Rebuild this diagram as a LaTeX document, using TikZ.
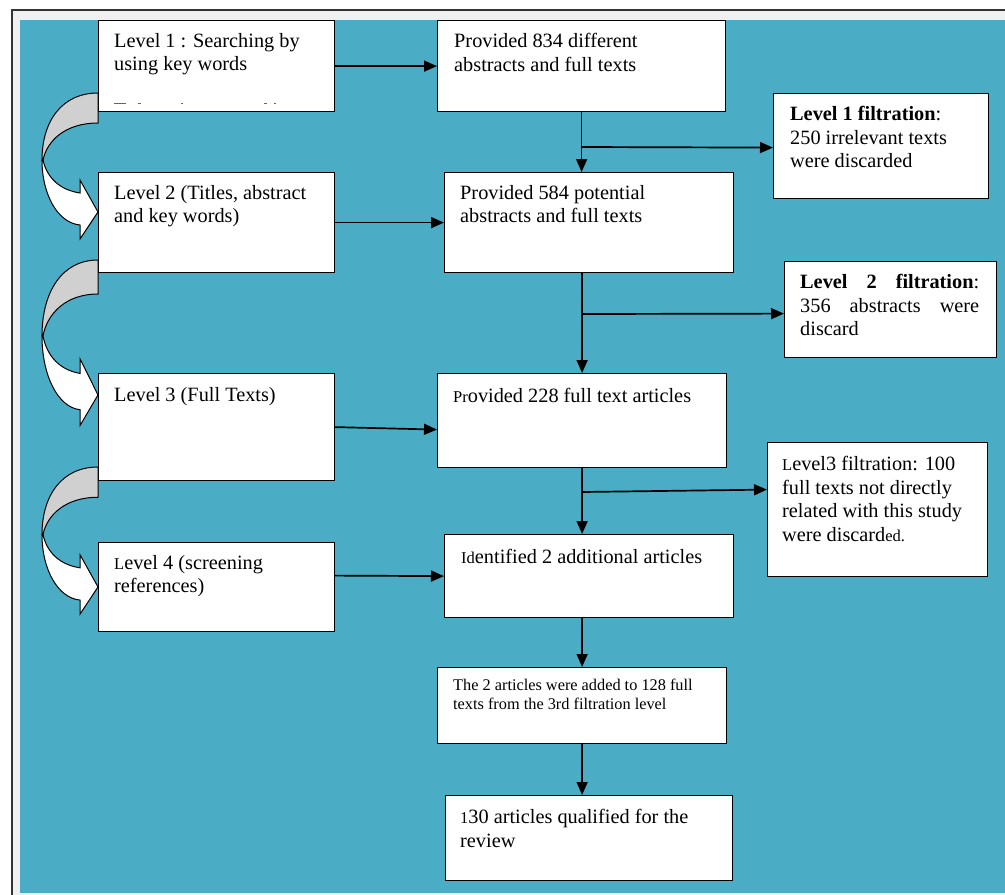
\documentclass[tikz,border=0pt]{standalone}
\usepackage{fontspec}
\setmainfont{Liberation Serif}
\usetikzlibrary{arrows.meta}
\definecolor{teal}{HTML}{4BACC6}
\definecolor{frame}{HTML}{F0F0F0}
\definecolor{backgray}{HTML}{D0D0D0}
\newcommand\fs{\fontsize{20.3}{23.6}\selectfont}
\newcommand\fsmall{\fontsize{16.3}{18.5}\selectfont}
\newcommand\sm[1]{{\fontsize{16.5}{18}\selectfont #1}}
\tikzset{
  box/.style={draw=black, fill=white, line width=1.2pt, inner sep=0pt, anchor=north west},
  txt/.style={anchor=north west, inner sep=0pt, align=left, font=\fs},
  conn/.style={line width=1.7pt, -{Triangle[length=13pt,width=11pt]}},
  backpart/.style={fill=backgray, draw=black, line width=1pt},
  frontpart/.style={fill=white, draw=black, line width=1pt, line join=miter}
}
\newcommand\curvedarrow[2]{%
\begin{scope}[shift={(0,#1)}, yscale=#2]
  \path[backpart] (98,0) .. controls (62,0) and (42,28) .. (42,67) -- (43,67) .. controls (47,48) and (65,30) .. (98,30) -- cycle;
  \path[frontpart] (42,67) .. controls (42,102) and (58,130) .. (80,132) -- (80,146) -- (98,119) -- (80,87) -- (80,100) .. controls (60,97) and (47,85) .. (43,67) -- cycle;
\end{scope}}
\begin{document}
\begin{tikzpicture}[x=1pt,y=-1pt]
\useasboundingbox (0,0) rectangle (1005,895);
% background frame
\fill[white] (0,0) rectangle (1005,895);
\fill[frame] (12,10) rectangle (1005,895);
\fill[teal] (20,20) rectangle (1005,893);
\draw[black!80, line width=1.2pt] (12,895) -- (12,10) -- (1005,10);

% left column
\node[box, minimum width=236pt, minimum height=91pt] (L1) at (98,20) {};
\node[txt] (L1t) at (114,33) {Level 1 : Searching by\\using key words};
\foreach \a/\b in {114/126,138/141,181/183,264/267,274/276}
  \draw[black!60, line width=0.8pt] (\a,103.5) -- (\b,103.5);
\node[box, minimum width=236pt, minimum height=100pt] (L2) at (98,172) {};
\node[txt] (L2t) at (114,185) {Level 2 (Titles, abstract\\and key words)};
\node[box, minimum width=236pt, minimum height=107pt] (L3) at (98,373) {};
\node[txt] (L3t) at (114,387) {Level 3 (Full Texts)};
\node[box, minimum width=236pt, minimum height=89pt] (L4) at (98,542) {};
\node[txt] (L4t) at (114,555) {\sm{L}evel 4 (screening\\references)};

% middle column
\node[box, minimum width=288pt, minimum height=91pt] (P1) at (437,20) {};
\node[txt] (P1t) at (454,33) {Provided 834 different\\abstracts and full texts};
\node[box, minimum width=289pt, minimum height=100pt] (P2) at (444,172) {};
\node[txt] (P2t) at (460,185) {Provided 584 potential\\abstracts and full texts};
\node[box, minimum width=289pt, minimum height=94pt] (P3) at (437,373) {};
\node[txt] (P3t) at (453,388) {\sm{Pr}ovided 228 full text articles};
\node[box, minimum width=289pt, minimum height=83pt] (P4) at (444,534) {};
\node[txt] (P4t) at (461,549) {\sm{Id}entified 2 additional articles};
\node[box, minimum width=289pt, minimum height=76pt] (P5) at (437,667) {};
\node[txt, font=\fsmall] (P5t) at (453,679) {The 2 articles were added to 128 full\\texts from the 3rd filtration level};
\node[box, minimum width=287pt, minimum height=85pt] (P6) at (445,795) {};
\node[txt] (P6t) at (460,809) {\sm{1}30 articles qualified for the\\review};

% right column
\node[box, minimum width=215pt, minimum height=105pt] (F1) at (773,93) {};
\node[txt] (F1t) at (790,106) {\textbf{Level 1 filtration}:\\250 irrelevant texts\\were discarded};
\node[box, minimum width=212pt, minimum height=96pt] (F2) at (784,261) {};
\node[txt] (F2t) at (800,274) {\makebox[179pt][s]{\textbf{Level}\hfill\textbf{2}\hfill\textbf{filtration}:}\\\makebox[179pt][s]{356\hfill abstracts\hfill were}\\discard};
\node[box, minimum width=220pt, minimum height=134pt] (F3) at (767,442) {};
\node[txt] (F3t) at (782,456) {\sm{L}evel3 filtration: 100\\full texts not directly\\related with this study\\were discard\sm{ed.}};

% horizontal connectors
\draw[conn] (L1.east) -- (P1.west);
\draw[conn] (L2.east) -- (P2.west);
\draw[conn] (L3.east) -- ([yshift=-9pt]P3.west);
\draw[conn] ([yshift=11.5pt]L4.east) -- (P4.west);

% vertical connectors
\draw[conn] (P1.south) -- (P1.south |- P2.north);
\draw[conn] (P3.north |- P2.south) -- (P3.north);
\draw[conn] (P3.south) -- (P3.south |- P4.north);
\draw[conn] (P5.north |- P4.south) -- (P5.north);
\draw[conn] (P5.south) -- (P5.south |- P6.north);

% branches
\coordinate (b1) at (582,147);
\coordinate (b2) at (582,314);
\coordinate (b3) at (582,492);
\draw[conn] (b1) -- ([yshift=-1.5pt]F1.west);
\draw[conn] (b2) -- ([yshift=-4pt]F2.west);
\draw[conn] (b3) -- ([yshift=20pt]F3.west);

% curved arrows
\curvedarrow{93}{1}
\curvedarrow{260}{1.134}
\curvedarrow{467}{1.008}
\end{tikzpicture}
\end{document}
